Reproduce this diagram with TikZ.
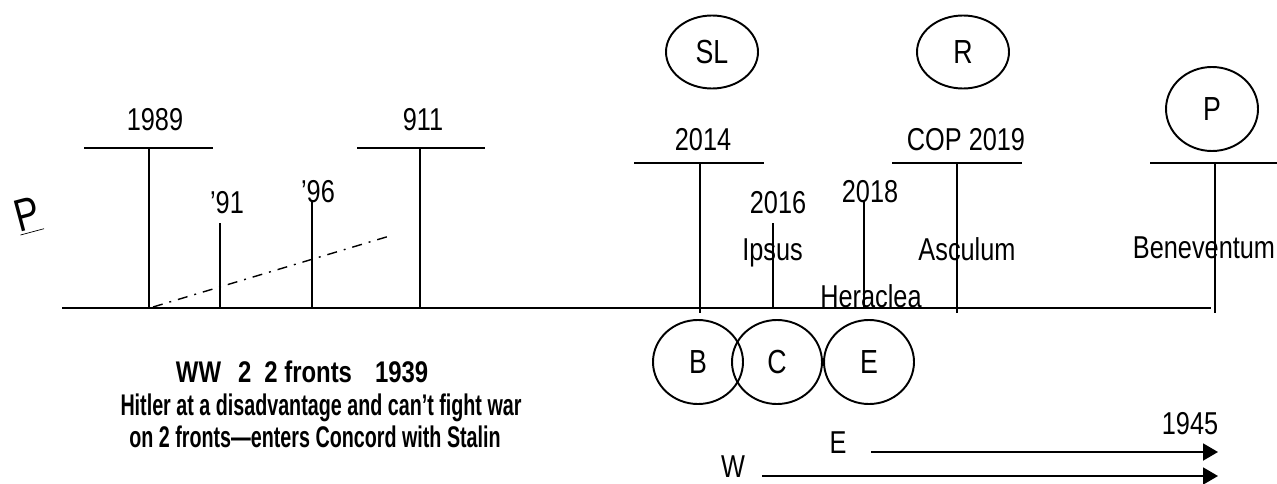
\documentclass[tikz,border=0pt]{standalone}
\usepackage{fontspec}
\setmainfont[FakeStretch=0.8]{Liberation Sans}
\newfontfamily\notefont[FakeStretch=0.66]{Liberation Sans Bold}
\newfontfamily\headfont[FakeStretch=0.8]{Liberation Sans Bold}
\usetikzlibrary{arrows.meta,shapes.geometric}

\tikzset{
  yr/.style={anchor=base, font=\fontsize{18}{22}\selectfont},
  note/.style={anchor=base, font=\notefont\fontsize{17}{20}\selectfont},
  ring/.style={draw, ellipse, inner sep=0, font=\fontsize{19}{22}\selectfont},
  front/.style={-{Triangle[length=0.3cm,width=0.34cm]}},
}

\begin{document}
\begin{tikzpicture}[line width=1.1pt]
    \useasboundingbox (0,0) rectangle (25.54cm,9.66cm);
    % the time line
    \draw (1.24cm,3.5cm) -- (24.22cm,3.5cm);
    \node[rotate=15, font=\fontsize{26}{30}\selectfont] (pmark) at (0.56cm,5.34cm) {\underline{P}};

    % big dates: bar on top
    \draw (1.68cm,6.7cm) -- (4.26cm,6.7cm);
    \draw (2.98cm,6.7cm) -- (2.98cm,3.5cm);
    \node[yr] (y1989) at (3.1cm,7.06cm) {1989};
    \draw (7.14cm,6.7cm) -- (9.7cm,6.7cm);
    \draw (8.4cm,6.7cm) -- (8.4cm,3.5cm);
    \node[yr] (y911) at (8.46cm,7.06cm) {911};
    \draw (12.68cm,6.4cm) -- (15.28cm,6.4cm);
    \draw (14cm,6.4cm) -- (14cm,3.4cm);
    \node[yr] (y2014) at (14.06cm,6.66cm) {2014};
    \draw (17.84cm,6.4cm) -- (20.44cm,6.4cm);
    \draw (19.14cm,6.4cm) -- (19.14cm,3.4cm);
    \node[yr] (y2019) at (19.32cm,6.66cm) {COP 2019};
    \draw (23cm,6.4cm) -- (25.54cm,6.4cm);
    \draw (24.3cm,6.4cm) -- (24.3cm,3.4cm);

    % small dates
    \draw (4.4cm,5.2cm) -- (4.4cm,3.5cm);
    \node[yr] (y91) at (4.54cm,5.4cm) {’91};
    \draw (6.24cm,5.66cm) -- (6.24cm,3.5cm);
    \node[yr] (y96) at (6.36cm,5.62cm) {’96};
    \draw (15.46cm,5.2cm) -- (15.46cm,3.5cm);
    \node[yr] (y2016) at (15.56cm,5.4cm) {2016};
    \draw (17.28cm,5.66cm) -- (17.28cm,3.5cm);
    \node[yr] (y2018) at (17.4cm,5.62cm) {2018};
    \draw[line width=0.8pt, dash pattern=on 5.7pt off 4pt on 1.1pt off 4pt] (3.06cm,3.52cm) -- (7.86cm,4.96cm);

    % battles
    \node[yr] (ipsus) at (15.45cm,4.46cm) {Ipsus};
    \node[yr] (heraclea) at (17.42cm,3.52cm) {Heraclea};
    \node[yr] (asculum) at (19.34cm,4.46cm) {Asculum};
    \node[yr, anchor=base east, inner xsep=0pt] (beneventum) at (25.52cm,4.5cm) {Beneventum};

    % circled letters
    \node[ring, minimum width=1.84cm, minimum height=1.46cm] (sl) at (14.24cm,8.62cm) {SL};
    \node[ring, minimum width=1.84cm, minimum height=1.46cm] (r) at (19.26cm,8.62cm) {R};
    \node[ring, minimum width=1.84cm, minimum height=1.68cm] (p) at (24.24cm,7.48cm) {P};
    \node[ring, minimum width=1.8cm, minimum height=1.68cm] (b) at (13.96cm,2.42cm) {B};
    \node[ring, minimum width=1.8cm, minimum height=1.68cm] (c) at (15.54cm,2.42cm) {C};
    \node[ring, minimum width=1.8cm, minimum height=1.68cm] (e) at (17.38cm,2.42cm) {E};

    % WW2 note
    \node[note, anchor=base west, inner xsep=0pt, font=\headfont\fontsize{17}{20}\selectfont] (ww2a) at (3.5cm,2.02cm)
        {WW\hspace{0.34cm}2\hspace{0.26cm}2 fronts\hspace{0.46cm}1939};
    \node[note] (ww2b) at (6.42cm,1.36cm) {Hitler at a disadvantage and can’t fight war};
    \node[note] (ww2c) at (6.3cm,0.72cm) {on 2 fronts—enters Concord with Stalin};

    % two fronts
    \node[yr] (east) at (16.76cm,0.6cm) {E};
    \node[yr] (west) at (14.66cm,0.12cm) {W};
    \node[yr] (y1945) at (23.8cm,0.98cm) {1945};
    \coordinate (eend) at (24.36cm,0.62cm);
    \coordinate (wend) at (24.36cm,0.14cm);
    \draw[front] (17.42cm,0.62cm) -- (eend);
    \draw[front] (15.24cm,0.14cm) -- (wend);
\end{tikzpicture}
\end{document}
